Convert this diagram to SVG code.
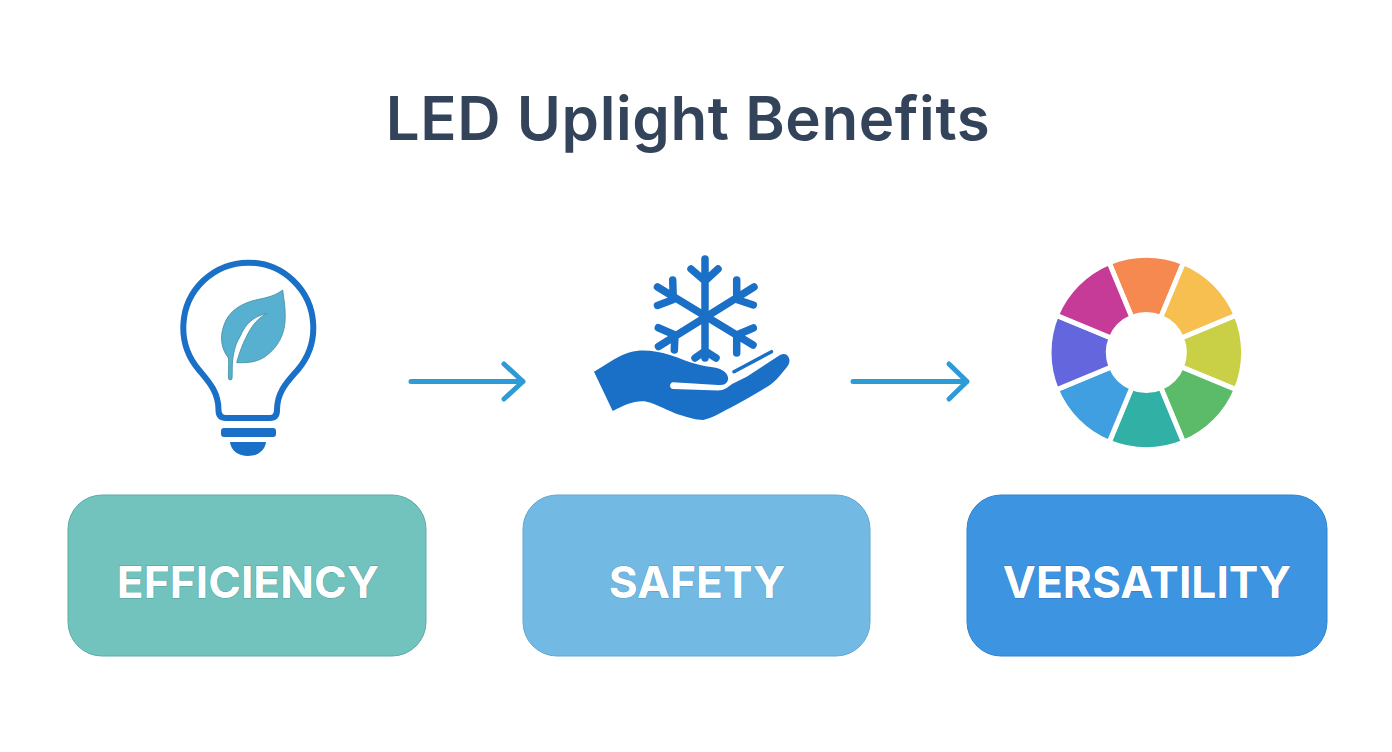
<svg xmlns="http://www.w3.org/2000/svg" width="1392" height="752" viewBox="0 0 1392 752">
<style>
.title{font:600 60px Inter,"Liberation Sans",sans-serif;letter-spacing:.6px;fill:#33435a;text-anchor:middle}
.lbl{font:700 44.300px Inter,"Liberation Sans",sans-serif;fill:#fff;text-anchor:middle;stroke-width:1;paint-order:stroke}
.arrow{fill:none;stroke:#2e9bd6;stroke-width:5;stroke-linecap:round;stroke-linejoin:round}
.seg{stroke:#fff;stroke-width:5;stroke-linejoin:miter}
.blue{fill:#1a6fc6}
.box{stroke-width:1}
</style>
<rect width="1392" height="752" fill="#fff"/>
<text id="title" class="title" x="688" y="140">LED Uplight Benefits</text>
<g id="efficiency">
<path d="M199 370A65 65 0 1 1 297.600 370C287 382 277 392 277 410Q277 418 270 418L226 418Q218.500 418 218.500 410C218.500 392 209 382 199 370Z" fill="none" stroke="#1a6fc6" stroke-width="6" stroke-linejoin="round"/>
<rect class="blue" x="221" y="428" width="55" height="9" rx="3"/>
<path class="blue" d="M230 442L266 442C265 451 257 456 248 456C239 456 231 451 230 442Z"/>
<path d="M282.700 290C272 298 262 298 252 301C238 305 228 313 224 325C219 338 222 350 228.500 358C229 366 228 372 228.500 379Q230 381 232 379C232.500 372 232 365 232.700 360C234 350 236 343 240 336.700C243 330 246 325 250 321.700C255 317 261 315 266.700 313.300C261 317 257 320 253.300 325C249 331 246 337 243.300 343.300C240.500 350 238 357 236.700 362.700C248 363 258 362 266 356C278 347 284 335 285 322C286 311 284 300 282.700 290Z" fill="#58b0d0" stroke="#3f8f9f" stroke-width="0.8"/>
<rect class="box" x="68" y="495" width="358" height="161" rx="34" fill="#72c3bd" stroke="#5cabaa"/>
<text class="lbl" x="248" y="598" stroke="#4f9f9f">EFFICIENCY</text>
</g>
<g id="safety">
<g fill="none" stroke="#1a6fc6" stroke-width="7.500" stroke-linecap="round" stroke-linejoin="round">
<path d="M705 259L705 358M691 269L705 281L718 269M695 358L705 351L716 358"/>
<path d="M657.500 287L753 345M672.700 280L673.300 299.500L657.500 305.500M736.700 353L736.700 335L753.300 328"/>
<path d="M754 287L658.500 346.500M736.700 280L736.700 299.500L753.300 305M674.300 350L675 335L658.300 327.700"/>
</g>
<path class="blue" d="M594 371.700C610 362 620 355 630 352.300C640 349 655 350 670 355C680 358 690 363 700 365C708 367 715 367 720 369C727 372 730 378 727 382C725 385 722 385 718 385L673.300 382.300C669 382.500 669 389 673.300 389L718 390.500C724 390.500 728 387 732 384L746.700 376.700L780 355C784 353 787 354 788.500 357C790 360 790 363 787 367C782 373 776 381 770 385C757 393 743 401 730 408C720 413 712 418 703.300 420C695 420 688 417 680 415C668 411 657 404 646.700 401.700C635 400 625 405 612.700 411Z"/>
<path d="M734 371.700L771.500 351.700" fill="none" stroke="#1a6fc6" stroke-width="3.500" stroke-linecap="round"/>
<rect class="box" x="523" y="495" width="347" height="161" rx="34" fill="#72bae3" stroke="#5fa9d6"/>
<text class="lbl" x="697" y="598" stroke="#549cc9">SAFETY</text>
</g>
<g id="versatility">
<path class="seg" fill="#f5894f" d="M1109.100 262.600A97.300 97.300 0 0 1 1183.500 262.600L1160.800 317.400A38 38 0 0 0 1131.800 317.400Z"/>
<path class="seg" fill="#f6bf4f" d="M1183.500 262.600A97.300 97.300 0 0 1 1236.200 315.300L1181.400 338A38 38 0 0 0 1160.800 317.400Z"/>
<path class="seg" fill="#c9d045" d="M1236.200 315.300A97.300 97.300 0 0 1 1236.200 389.700L1181.400 367A38 38 0 0 0 1181.400 338Z"/>
<path class="seg" fill="#5cbb68" d="M1236.200 389.700A97.300 97.300 0 0 1 1183.500 442.400L1160.800 387.600A38 38 0 0 0 1181.400 367Z"/>
<path class="seg" fill="#31b0a5" d="M1183.500 442.400A97.300 97.300 0 0 1 1109.100 442.400L1131.800 387.600A38 38 0 0 0 1160.800 387.600Z"/>
<path class="seg" fill="#3f9fe0" d="M1109.100 442.400A97.300 97.300 0 0 1 1056.400 389.700L1111.200 367A38 38 0 0 0 1131.800 387.600Z"/>
<path class="seg" fill="#6366dc" d="M1056.400 389.700A97.300 97.300 0 0 1 1056.400 315.300L1111.200 338A38 38 0 0 0 1111.200 367Z"/>
<path class="seg" fill="#c63a98" d="M1056.400 315.300A97.300 97.300 0 0 1 1109.100 262.600L1131.800 317.400A38 38 0 0 0 1111.200 338Z"/>
<rect class="box" x="967" y="495" width="360" height="161" rx="34" fill="#3d95e2" stroke="#3084d0"/>
<text class="lbl" x="1147" y="598" stroke="#2a7cc6">VERSATILITY</text>
</g>
<g id="connectors">
<path class="arrow" d="M411 381.500L523 381.500M504 364L523 381.500L504 399"/>
<path class="arrow" d="M853 381.500L967 381.500M949 364L967 381.500L949 399"/>
</g>
</svg>
